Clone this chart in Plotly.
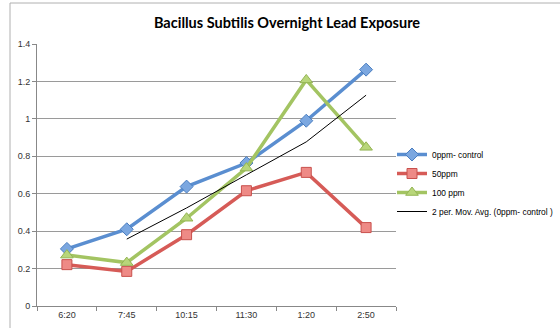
import plotly.graph_objects as go
import pandas as pd

times = ["6:20", "7:45", "10:15", "11:30", "1:20", "2:50"]
ppm0 = [0.305, 0.41, 0.638, 0.764, 0.99, 1.263]
ppm50 = [0.221, 0.185, 0.381, 0.616, 0.714, 0.419]
ppm100 = [0.272, 0.232, 0.469, 0.737, 1.208, 0.848]

# 2-period moving average of the control series (first point undefined)
mov_avg = pd.Series(ppm0).rolling(2).mean().tolist()

W, H = 560, 328
L, R, T, B = 37, 164, 44, 22
pw, ph = W - L - R, H - T - B

def px_x(x):
    return (x - L) / pw

def px_y(y):
    return (H - B - y) / ph

fig = go.Figure()
fig.add_trace(go.Scatter(
    x=times, y=ppm0, name="0ppm- control", mode="lines+markers",
    line=dict(color="#5A8ED0", width=3.5),
    marker=dict(symbol="diamond", size=10, color="#7BA7E0", line=dict(color="#4A7EC0", width=1)),
))
fig.add_trace(go.Scatter(
    x=times, y=ppm50, name="50ppm", mode="lines+markers",
    line=dict(color="#D65B57", width=3.5),
    marker=dict(symbol="square", size=10, color="#EE8A86", line=dict(color="#C8504C", width=1)),
))
fig.add_trace(go.Scatter(
    x=times, y=ppm100, name="100 ppm", mode="lines+markers",
    line=dict(color="#A3C462", width=3.5),
    marker=dict(symbol="triangle-up", size=11, color="#B8D67A", line=dict(color="#93B452", width=1)),
))
fig.add_trace(go.Scatter(
    x=times, y=mov_avg, name="2 per. Mov. Avg. (0ppm- control )", mode="lines",
    line=dict(color="#000000", width=1),
))

fig.update_layout(
    width=W, height=H,
    margin=dict(l=L, r=R, t=T, b=B, autoexpand=False),
    paper_bgcolor="white", plot_bgcolor="white",
    font=dict(family="Liberation Sans, Arial, sans-serif", size=9, color="#333333"),
    title=dict(
        text="<b>Bacillus Subtilis Overnight Lead Exposure</b>",
        x=287 / W, xanchor="center", xref="container", y=1 - 23 / H, yanchor="middle",
        font=dict(family="Lato, sans-serif", size=14.5, color="#000000"),
    ),
    xaxis=dict(
        type="category", range=[-0.5, 5.5], tickson="boundaries",
        showgrid=False, showline=True, linecolor="#888888", linewidth=1,
        ticks="outside", ticklen=4, tickcolor="#888888",
        tickfont=dict(size=9, color="#333333"),
    ),
    yaxis=dict(
        range=[0, 1.4], dtick=0.2, showgrid=True, gridcolor="#9a9a9a", gridwidth=1,
        showline=True, linecolor="#888888", linewidth=1, zeroline=False,
        ticks="outside", ticklen=4, tickcolor="#888888",
        tickfont=dict(size=9, color="#333333"),
    ),
    legend=dict(
        x=px_x(392), y=px_y(140), xanchor="left", yanchor="top",
        font=dict(size=8.4, color="#000000"), itemwidth=30,
        bgcolor="rgba(0,0,0,0)", tracegroupgap=0,
    ),
    shapes=[dict(
        type="rect", xref="paper", yref="paper",
        x0=px_x(10), x1=px_x(640), y0=px_y(340), y1=px_y(3),
        line=dict(color="#b0b0b0", width=1), fillcolor="rgba(0,0,0,0)", layer="below",
    )],
)

fig.write_html("out.html")
